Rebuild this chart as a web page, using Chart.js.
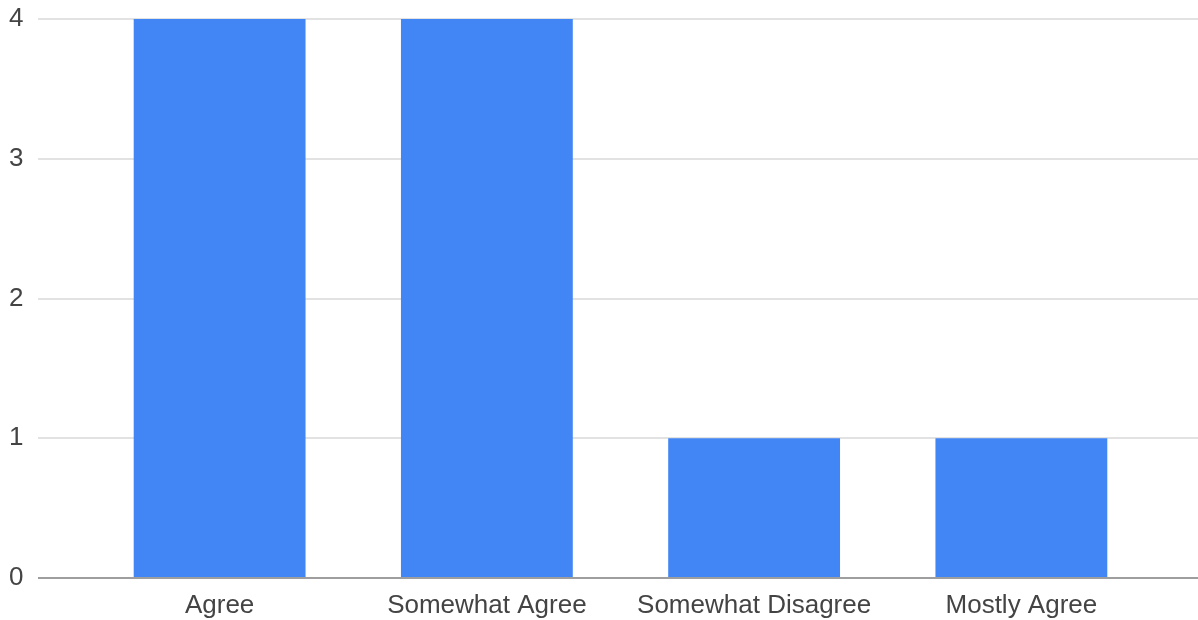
<!DOCTYPE html>
<html>
<head>
<meta charset="utf-8">
<script src="https://cdn.jsdelivr.net/npm/chart.js@4/dist/chart.umd.min.js"></script>
<style>
html,body{margin:0;padding:0;background:#fff;}
#wrap{width:1198px;height:620px;position:relative;}
</style>
</head>
<body>
<div id="wrap"><canvas id="c"></canvas></div>
<script>
const categories = ["Agree", "Somewhat Agree", "Somewhat Disagree", "Mostly Agree"];
const counts = [4, 4, 1, 1];
const yTicks = [0, 1, 2, 3, 4];

const gridPlugin = {
  id: 'fullGrid',
  beforeDatasetsDraw(chart) {
    const y = chart.scales.y;
    const ctx = chart.ctx;
    ctx.save();
    yTicks.forEach(v => {
      if (v === 0) return;
      const py = Math.round(y.getPixelForValue(v));
      ctx.beginPath();
      ctx.strokeStyle = '#e2e2e2';
      ctx.lineWidth = 2;
      ctx.moveTo(38, py);
      ctx.lineTo(1198, py);
      ctx.stroke();
    });
    ctx.restore();
  },
  afterDatasetsDraw(chart) {
    const y = chart.scales.y;
    const ctx = chart.ctx;
    ctx.save();
    const py = Math.round(y.getPixelForValue(0));
    ctx.beginPath();
    ctx.strokeStyle = '#9e9e9e';
    ctx.lineWidth = 2;
    ctx.moveTo(38, py);
    ctx.lineTo(1198, py);
    ctx.stroke();
    ctx.restore();
  }
};

new Chart(document.getElementById('c'), {
  type: 'bar',
  data: {
    labels: categories,
    datasets: [{
      data: counts,
      backgroundColor: '#4285f4',
      borderWidth: 0,
      categoryPercentage: 1.0,
      barPercentage: 0.643
    }]
  },
  options: {
    responsive: true,
    maintainAspectRatio: false,
    animation: false,
    layout: { padding: { left: 9, right: 43, top: 19, bottom: 0 } },
    plugins: { legend: { display: false }, tooltip: { enabled: false } },
    scales: {
      x: {
        grid: { display: false, drawTicks: false },
        border: { display: false },
        ticks: { color: '#444', font: { family: 'Liberation Sans, Arial, sans-serif', size: 26 }, padding: 12, maxRotation: 0, autoSkip: false },
        afterFit(s) { s.height = 42; }
      },
      y: {
        min: 0, max: 4,
        grid: { display: false, drawTicks: false },
        border: { display: false },
        ticks: { stepSize: 1, color: '#444', crossAlign: 'far', font: { family: 'Liberation Sans, Arial, sans-serif', size: 26 }, padding: 0 },
        afterFit(s) { s.width = 77; }
      }
    }
  },
  plugins: [gridPlugin]
});
</script>
</body>
</html>
